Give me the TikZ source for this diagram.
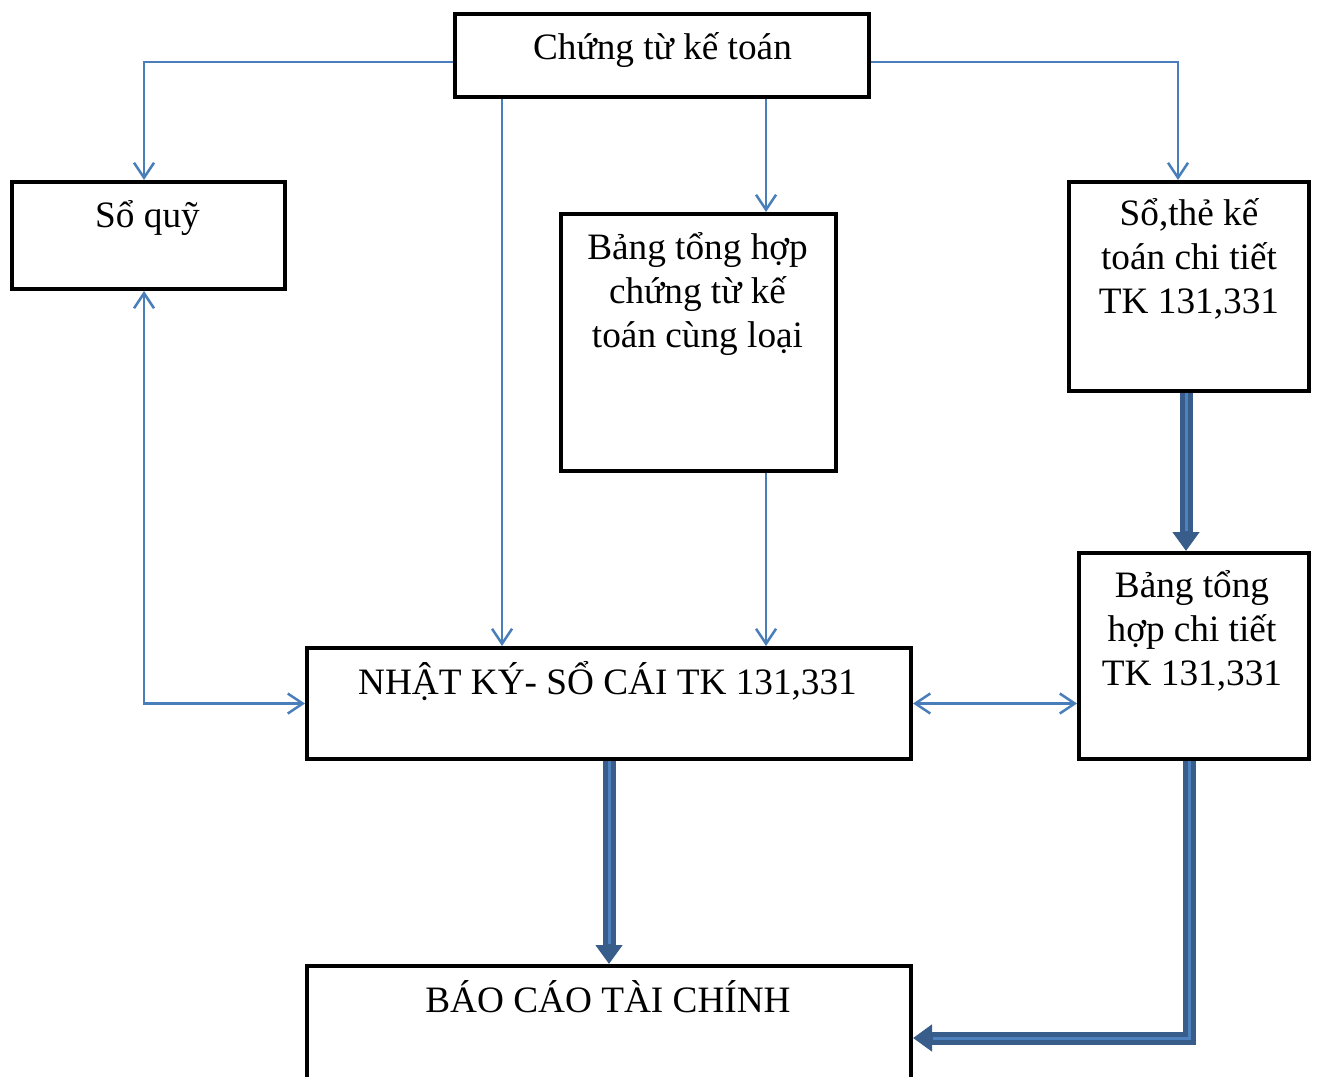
\documentclass[tikz,border=0pt]{standalone}
\usepackage{fontspec}
\setmainfont{Liberation Serif}
\usepackage{xcolor}
\definecolor{cLine}{HTML}{4A7EBB}
\definecolor{cFat}{HTML}{385D8A}
\definecolor{cFatIn}{HTML}{4F81BD}
\usetikzlibrary{arrows.meta,positioning,calc}

\begin{document}
\begin{tikzpicture}[
  font=\fontsize{21.2}{25}\selectfont,
  every node/.style={align=center},
  box/.style={draw=black,line width=0.08cm,inner sep=0pt},
  txt/.style={anchor=base,inner sep=0pt},
  ln/.style={draw=cLine,line width=0.05cm,-{Straight Barb[length=0.3cm,width=0.4cm]}},
  ln2/.style={ln,{Straight Barb[length=0.3cm,width=0.4cm]}-{Straight Barb[length=0.3cm,width=0.4cm]}},
  fat/.style={draw=cFat,line width=0.26cm,-{Triangle[length=0.38cm,width=0.52cm]},
    postaction={draw=cFatIn,line width=0.06cm,-,shorten >=0.4cm}}]
\useasboundingbox (0,0) rectangle (26.38,-21.54);

% --- boxes ---
\node[box,minimum width=8.28cm,minimum height=1.66cm] (ctkt) at (13.24,-1.11) {};
\node[box,minimum width=5.46cm,minimum height=2.14cm] (soquy) at (2.97,-4.71) {};
\node[box,minimum width=5.5cm,minimum height=5.14cm] (bth) at (13.97,-6.85) {};
\node[box,minimum width=4.8cm,minimum height=4.18cm] (sothe) at (23.78,-5.73) {};
\node[box,minimum width=4.6cm,minimum height=4.12cm] (bthct) at (23.88,-13.12) {};
\node[box,minimum width=12.08cm,minimum height=2.22cm] (nkscs) at (12.18,-14.07) {};
\node[box,minimum width=12.08cm,minimum height=2.3cm] (bcct) at (12.18,-20.47) {};

% --- texts (base = last line) ---
\node[txt] (ctkt-t) at (13.25,-1.20) {Chứng từ kế toán};
\node[txt] (soquy-t) at (2.95,-4.56) {Sổ quỹ};
\node[txt] (bth-t) at (13.95,-6.94) {Bảng tổng hợp\\chứng từ kế\\toán cùng loại};
\node[txt] (sothe-t) at (23.78,-6.26) {Sổ,thẻ kế\\toán chi tiết\\TK 131,331};
\node[txt] (bthct-t) at (23.84,-13.70) {Bảng tổng\\hợp chi tiết\\TK 131,331};
\node[txt] (nkscs-t) at (12.15,-13.88) {NHẬT KÝ- SỔ CÁI TK 131,331};
\node[txt] (bcct-t) at (12.16,-20.24) {BÁO CÁO TÀI CHÍNH};

% helper lines for the connectors
\coordinate (xa) at (2.88,0);
\coordinate (xb) at (10.04,0);
\coordinate (xc) at (15.32,0);
\coordinate (xd) at (23.56,0);
\coordinate (xe) at (23.72,0);
\coordinate (xf) at (23.78,0);
\coordinate (yt) at (0,-1.24);
\coordinate (yb) at (0,-20.76);

% thin connectors
\draw[ln] (ctkt.west |- yt) -| (soquy.north -| xa);
\draw[ln] (ctkt.east |- yt) -| (sothe.north -| xd);
\draw[ln] (ctkt.south -| xb) -- (nkscs.north -| xb);
\draw[ln] (ctkt.south -| xc) -- (bth.north -| xc);
\draw[ln] (bth.south -| xc) -- (nkscs.north -| xc);
\draw[ln2] (soquy.south -| xa) |- (nkscs.west);
\draw[ln2] (nkscs.east) -- (nkscs.east -| bthct.west);
% thick connectors
\draw[fat] (sothe.south -| xe) -- (bthct.north -| xe);
\draw[fat] (nkscs.south) -- (bcct.north);
\draw[fat] (bthct.south -| xf) |- (bcct.east |- yb);
\end{tikzpicture}
\end{document}
